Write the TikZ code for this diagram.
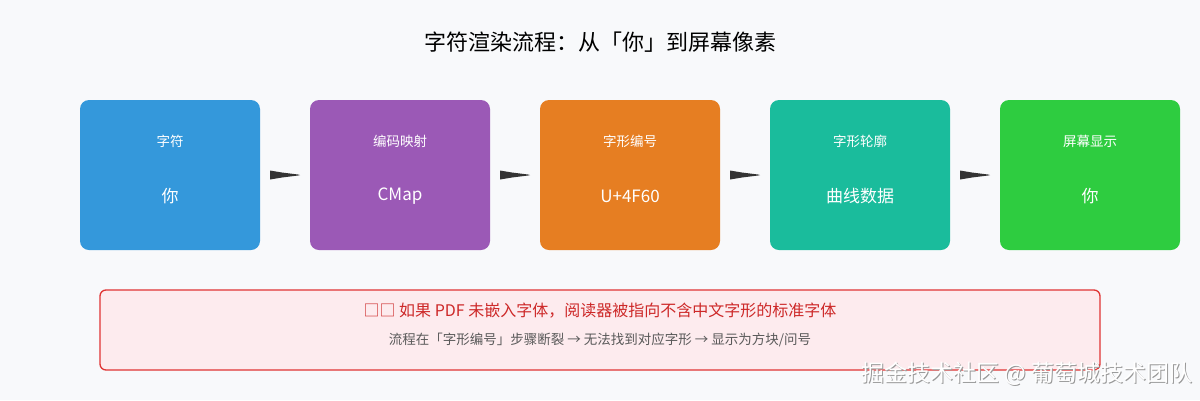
\documentclass[tikz,border=0pt]{standalone}
\usepackage{fontspec}
\setmainfont{Noto Sans CJK SC}
\begin{document}
\begin{tikzpicture}[x=1pt,y=-1pt,
  box/.style={rounded corners=9pt,draw=none},
  lab/.style={text=white,font=\fontsize{13.5}{15}\selectfont},
  val/.style={text=white,font=\fontsize{17}{19}\selectfont},
  arr/.style={fill=black!80,draw=none}]
\fill[fill={rgb,255:red,248;green,249;blue,251}] (0,0) rectangle (1200,400);
\useasboundingbox (0,0) rectangle (1200,400);
\node (title) at (600,42) {\fontsize{22}{25}\selectfont 字符渲染流程：从「你」到屏幕像素};
\definecolor{c1}{HTML}{3498DB}\definecolor{c2}{HTML}{9B59B6}\definecolor{c3}{HTML}{E67E22}
\definecolor{c4}{HTML}{1ABC9C}\definecolor{c5}{HTML}{2ECC40}
\foreach \i/\c/\a/\b in {0/c1/字符/你,1/c2/编码映射/CMap,2/c3/字形编号/U+4F60,3/c4/字形轮廓/曲线数据,4/c5/屏幕显示/你}{
  \fill[box,\c] (80+230*\i,100) rectangle (260+230*\i,250);
  \node[lab] (l\i) at (170+230*\i,141) {\a};
  \node[val] (v\i) at (170+230*\i,196) {\b};
}
\foreach \i in {0,1,2,3}{
  \coordinate (a\i) at (270+230*\i,175);
  \fill[arr] (a\i) ++(0,-4.5) -- ++(12,2) -- ++(16,2) -- ++(2,0.5) -- ++(-2,0.5) -- ++(-16,2) -- ++(-12,2) -- cycle;
}
\draw[rounded corners=6pt,draw={rgb,255:red,224;green,52;blue,52},line width=1.3pt,fill={rgb,255:red,253;green,235;blue,238}] (100,290) rectangle (1100,370);
\node[text={rgb,255:red,205;green,40;blue,40}] (w1) at (600,311) {\fontsize{16}{18}\selectfont □□ 如果 PDF 未嵌入字体，阅读器被指向不含中文字形的标准字体};
\node[text=black!65] (w2) at (600,340) {\fontsize{13.5}{16}\selectfont 流程在「字形编号」步骤断裂 → 无法找到对应字形 → 显示为方块/问号};
\node[text=black!40,anchor=east] (wm0) at (1197,375) {\fontsize{23}{26}\selectfont 掘金技术社区 @ 葡萄城技术团队};
\node[text=white,anchor=east] (wm) at (1196,374) {\fontsize{23}{26}\selectfont 掘金技术社区 @ 葡萄城技术团队};
\end{tikzpicture}
\end{document}
